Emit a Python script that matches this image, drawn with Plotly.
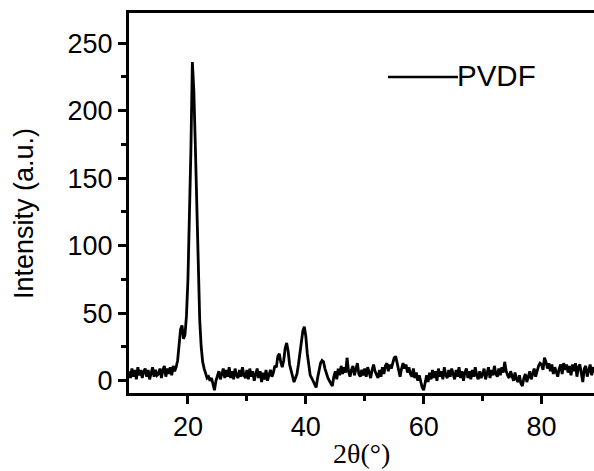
import numpy as np
import plotly.graph_objects as go

# 2-theta grid (degrees), 0.25 deg step from 10 to 89
two_theta = np.round(np.arange(10.0, 89.0001, 0.25), 2)

# Intensity values (a.u.), one row per 5 degrees
intensity = [
    7, 2, 9, 3, 8, 1, 10, 4, 8, 2, 7, 9, 3, 8, 1, 7, 10, 3, 8, 4,          # 10.00-14.75
    5, 9, 2, 8, 11, 3, 9, 5, 10, 4, 11, 7, 10, 15, 28, 38, 41, 31, 34, 48, # 15.00-19.75
    75, 115, 170, 236, 215, 175, 125, 80, 45, 25, 14, 9, 5, 2, 3, 0, 2, -2, -7, 0,  # 20.00-24.75
    3, 7, 1, 6, 9, 2, 8, 3, 10, 2, 7, 1, 9, 4, 2, 8, 3, 10, 4, 2,          # 25.00-29.75
    8, 1, 9, 3, 7, 0, 6, 9, 2, 7, -1, 6, 1, 8, 0, 4, 8, 3, 6, 11,          # 30.00-34.75
    10, 18, 20, 14, 10, 15, 24, 28, 22, 12, 8, 3, -1, 2, 5, 12, 22, 30, 37, 40,  # 35.00-39.75
    33, 20, 10, 4, 2, 0, -3, -5, 2, 8, 13, 15, 14, 9, 5, 2, 0, -2, -4, 3,  # 40.00-44.75
    7, 1, 9, 4, 11, 5, 10, 6, 17, 7, 3, 8, 11, 4, 9, 13, 5, 3, 8, 4,       # 45.00-49.75
    9, 3, 10, 5, 2, 8, 12, 7, 4, 2, 8, 3, 10, 5, 11, 13, 7, 12, 9, 14,     # 50.00-54.75
    17, 18, 12, 6, 3, 9, 13, 9, 12, 6, 10, 5, 3, 9, 2, 6, 0, 4, -2, -5,    # 55.00-59.75
    -7, -1, 4, -1, 6, 1, 8, 2, 7, 0, 9, 3, 7, 1, 10, 4, 2, 8, 3, 9,        # 60.00-64.75
    5, 1, 8, 3, 10, 2, 7, 0, 6, 9, 2, 7, 1, 8, 3, 10, 4, 1, 7, 2,          # 65.00-69.75
    5, 9, 1, 7, 10, 2, 8, 4, 11, 5, 3, 9, 4, 10, 6, 14, 7, 4, 2, 7,        # 70.00-74.75
    3, 0, 6, 1, -1, 4, -2, -4, 2, 5, -1, 4, 7, 1, 6, 9, 3, 8, 11, 13,      # 75.00-79.75
    12, 8, 17, 14, 9, 13, 7, 12, 5, 10, 6, 3, 9, 12, 5, 13, 8, 12, 6, 11,  # 80.00-84.75
    4, 12, 7, 13, 3, 10, 12, 5, -1, 9, 11, 3, 8, 12, 4, 10, 6,             # 85.00-89.00
]

series_name = "PVDF"
x_ticks = [20, 40, 60, 80]
y_ticks = [0, 50, 100, 150, 200, 250]

SANS = "Arial, Liberation Sans, sans-serif"
SERIF = "Times New Roman, Liberation Serif, serif"

fig = go.Figure()
fig.add_trace(go.Scatter(
    x=two_theta, y=intensity, mode="lines", name=series_name,
    line=dict(color="black", width=2.8), showlegend=False,
))

fig.update_layout(
    width=594, height=471,
    margin=dict(l=129, r=0, t=13, b=78),
    paper_bgcolor="white", plot_bgcolor="white",
    font=dict(family=SANS, color="black", size=27),
)

fig.update_xaxes(
    range=[10, 88.9], tickvals=x_ticks, ticks="outside", ticklen=8, tickwidth=3,
    tickcolor="black", showline=True, linewidth=3, linecolor="black",
    mirror=True, showgrid=False, zeroline=False,
    tickfont=dict(family=SANS, size=27, color="black"),
    minor=dict(tickvals=[30, 50, 70], ticks="outside", ticklen=5, tickwidth=3,
               tickcolor="black", showgrid=False),
)
fig.update_yaxes(
    range=[-9.1, 272.4], tickvals=y_ticks, ticks="outside", ticklen=8, tickwidth=3,
    tickcolor="black", showline=True, linewidth=3, linecolor="black",
    showgrid=False, zeroline=False,
    tickfont=dict(family=SANS, size=27, color="black"),
    minor=dict(tickvals=[25, 75, 125, 175, 225], ticks="outside", ticklen=5,
               tickwidth=3, tickcolor="black", showgrid=False),
)

# axis titles
fig.add_annotation(
    text="Intensity (a.u.)", xref="paper", yref="paper", x=0, y=0.5,
    xanchor="center", yanchor="middle", xshift=-105, yshift=-11,
    textangle=-90, showarrow=False, font=dict(family=SANS, size=27, color="black"),
)
fig.add_annotation(
    text="2θ(°)", xref="paper", yref="paper", x=0.5, y=0,
    xanchor="center", yanchor="middle", yshift=-60,
    showarrow=False, font=dict(family=SERIF, size=28, color="black"),
)

# legend (line key + label)
fig.add_shape(type="line", xref="paper", yref="paper",
              x0=0.557, x1=0.7075, y0=0.8316, y1=0.8316,
              line=dict(color="black", width=2.5))
fig.add_annotation(
    text=series_name, xref="paper", yref="paper", x=0.7075, y=0.8316,
    xanchor="left", yanchor="middle", showarrow=False, xshift=-3, yshift=1,
    font=dict(family=SANS, size=29.5, color="black"),
)

# remove the default page margin so the figure fills the window exactly
fig.write_html(
    "out.html",
    config={"displayModeBar": False},
    post_script="document.body.style.margin='0';document.body.style.overflow='hidden';",
)
